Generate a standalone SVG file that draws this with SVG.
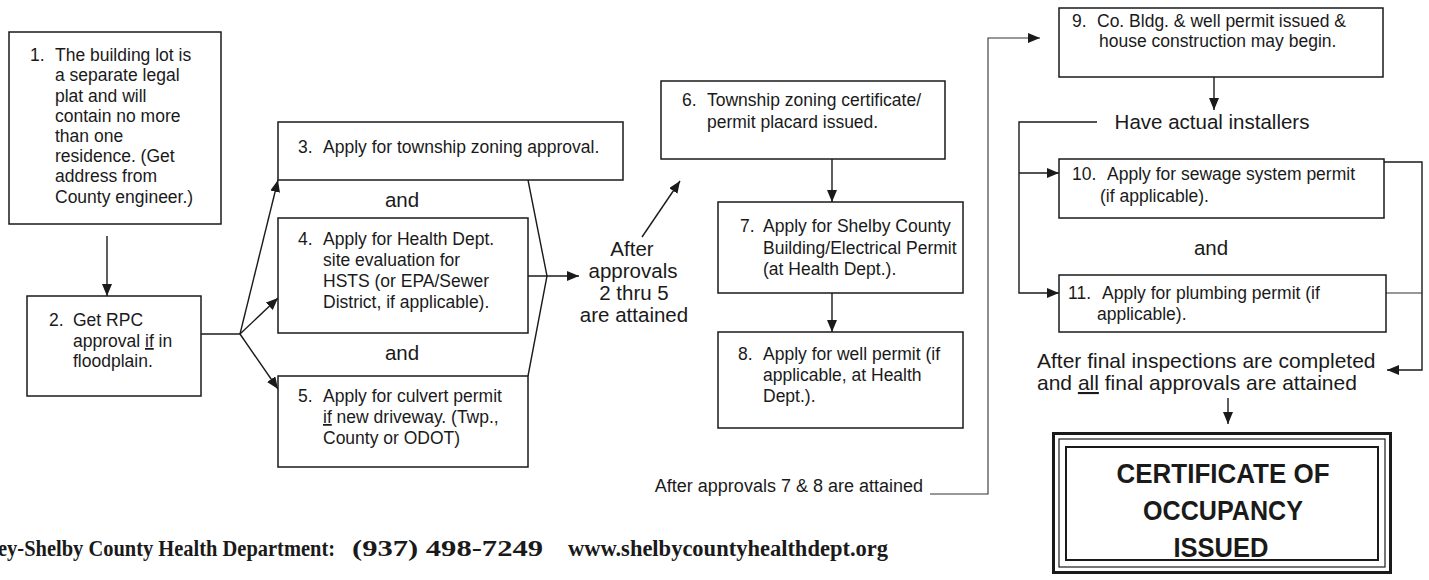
<svg xmlns="http://www.w3.org/2000/svg" width="1429" height="580" viewBox="0 0 1429 580">
<defs>
<style>
.box{fill:#fff;stroke:#1a1a1a;stroke-width:1.5}
.t{font-family:"Liberation Sans",Arial,sans-serif;font-size:17.5px;fill:#1a1a1a}
.l{font-family:"Liberation Sans",Arial,sans-serif;font-size:20.5px;fill:#1a1a1a}
.c{stroke:#1a1a1a;stroke-width:1.4;fill:none}
.cl{stroke:#333;stroke-width:1.1;fill:none}
.ft{font-family:"Liberation Serif","Times New Roman",serif;font-weight:bold;font-size:23px;fill:#1a1a1a}
.cert{font-family:"Liberation Sans",Arial,sans-serif;font-weight:bold;font-size:27px;fill:#1a1a1a;text-anchor:middle}
</style>
<marker id="ah" markerUnits="userSpaceOnUse" markerWidth="13" markerHeight="11" refX="12" refY="5" orient="auto">
<path d="M0,0 L12,5 L0,10 Z" fill="#1a1a1a"/>
</marker>
</defs>
<rect width="1429" height="580" fill="#fff"/>

<g id="connectors">
<line class="c" x1="107" y1="236" x2="107" y2="296" marker-end="url(#ah)"/>
<polyline class="c" points="201,334 240,334"/>
<line class="c" x1="240" y1="334" x2="278" y2="180" marker-end="url(#ah)"/>
<line class="c" x1="240" y1="334" x2="278" y2="298" marker-end="url(#ah)"/>
<line class="c" x1="240" y1="334" x2="278" y2="389" marker-end="url(#ah)"/>
<polyline class="c" points="528,180 547,276 528,376"/>
<line class="c" x1="528" y1="276" x2="579" y2="276" marker-end="url(#ah)"/>
<line class="c" x1="642" y1="237" x2="680" y2="181" marker-end="url(#ah)"/>
<line class="c" x1="832" y1="159" x2="832" y2="202" marker-end="url(#ah)"/>
<line class="c" x1="832" y1="293" x2="832" y2="332" marker-end="url(#ah)"/>
<polyline class="cl" points="930,494 988,494 988,38 1040,38" marker-end="url(#ah)"/>
<line class="c" x1="1214" y1="77" x2="1214" y2="110" marker-end="url(#ah)"/>
<polyline class="c" points="1097,122 1019,122 1019,293 1059,293" marker-end="url(#ah)"/>
<line class="c" x1="1019" y1="173" x2="1059" y2="173" marker-end="url(#ah)"/>
<polyline class="c" points="1384,162 1422,162 1422,370 1387,370" marker-end="url(#ah)"/>
<line class="cl" x1="1386" y1="293" x2="1422" y2="293"/>
<line class="c" x1="1228" y1="398" x2="1228" y2="424" marker-end="url(#ah)"/>
</g>

<g id="n1">
<rect class="box" x="9" y="32" width="212" height="192"/>
<text class="t" x="30" y="61">1.</text>
<text class="t" x="55" y="61">The building lot is</text>
<text class="t" x="55" y="81">a separate legal</text>
<text class="t" x="55" y="102">plat and will</text>
<text class="t" x="55" y="122">contain no more</text>
<text class="t" x="55" y="142">than one</text>
<text class="t" x="55" y="162">residence.  (Get</text>
<text class="t" x="55" y="182">address from</text>
<text class="t" x="55" y="203">County engineer.)</text>
</g>

<g id="n2">
<rect class="box" x="27" y="296" width="174" height="100"/>
<text class="t" x="49" y="326">2.</text>
<text class="t" x="73" y="326">Get RPC</text>
<text class="t" x="73" y="347">approval <tspan text-decoration="underline">if</tspan> in</text>
<text class="t" x="73" y="367">floodplain.</text>
</g>

<g id="n3">
<rect class="box" x="278" y="122" width="345" height="58"/>
<text class="t" x="298" y="153">3.</text>
<text class="t" x="323" y="153">Apply for township zoning approval.</text>
</g>

<g id="and1"><text class="l" x="402" y="207" text-anchor="middle">and</text></g>

<g id="n4">
<rect class="box" x="278" y="218" width="250" height="115"/>
<text class="t" x="298" y="245">4.</text>
<text class="t" x="323" y="245">Apply for Health Dept.</text>
<text class="t" x="323" y="266">site evaluation for</text>
<text class="t" x="323" y="287">HSTS (or EPA/Sewer</text>
<text class="t" x="323" y="308">District, if applicable).</text>
</g>

<g id="and2"><text class="l" x="402" y="360" text-anchor="middle">and</text></g>

<g id="n5">
<rect class="box" x="278" y="376" width="250" height="91"/>
<text class="t" x="298" y="402">5.</text>
<text class="t" x="323" y="402">Apply for culvert permit</text>
<text class="t" x="323" y="423"><tspan text-decoration="underline">if</tspan> new driveway.  (Twp.,</text>
<text class="t" x="323" y="444">County or ODOT)</text>
</g>

<g id="after1">
<text class="l" x="632" y="256" text-anchor="middle">After</text>
<text class="l" x="633" y="278" text-anchor="middle">approvals</text>
<text class="l" x="634" y="300" text-anchor="middle">2 thru 5</text>
<text class="l" x="634" y="322" text-anchor="middle">are attained</text>
</g>

<g id="n6">
<rect class="box" x="661" y="81" width="284" height="78"/>
<text class="t" x="682" y="106">6.</text>
<text class="t" x="707" y="106">Township zoning certificate/</text>
<text class="t" x="707" y="128">permit placard issued.</text>
</g>

<g id="n7">
<rect class="box" x="718" y="202" width="245" height="91"/>
<text class="t" x="740" y="232">7.</text>
<text class="t" x="763" y="232">Apply for Shelby County</text>
<text class="t" x="763" y="254">Building/Electrical Permit</text>
<text class="t" x="763" y="275">(at Health Dept.).</text>
</g>

<g id="n8">
<rect class="box" x="718" y="332" width="245" height="96"/>
<text class="t" x="738" y="360">8.</text>
<text class="t" x="763" y="360">Apply for well permit (if</text>
<text class="t" x="763" y="381">applicable, at Health</text>
<text class="t" x="763" y="402">Dept.).</text>
</g>

<g id="after2"><text class="t" x="923" y="492" text-anchor="end" style="font-size:18px">After approvals 7 &amp; 8 are attained</text></g>

<g id="n9">
<rect class="box" x="1059" y="8" width="324" height="69"/>
<text class="t" x="1072" y="27">9.</text>
<text class="t" x="1097" y="27">Co. Bldg. &amp; well permit issued &amp;</text>
<text class="t" x="1099" y="47">house construction may begin.</text>
</g>

<g id="installers"><text class="l" x="1212" y="129" text-anchor="middle">Have actual installers</text></g>

<g id="n10">
<rect class="box" x="1059" y="159" width="325" height="59"/>
<text class="t" x="1072" y="180">10.</text>
<text class="t" x="1107" y="180">Apply for sewage system permit</text>
<text class="t" x="1100" y="202">(if applicable).</text>
</g>

<g id="and3"><text class="l" x="1211" y="255" text-anchor="middle">and</text></g>

<g id="n11">
<rect class="box" x="1059" y="275" width="327" height="57"/>
<text class="t" x="1068" y="299">11.</text>
<text class="t" x="1102" y="299">Apply for plumbing permit (if</text>
<text class="t" x="1097" y="320">applicable).</text>
</g>

<g id="final">
<text class="l" x="1037" y="368" style="font-size:21px">After final inspections are completed</text>
<text class="l" x="1037" y="390" style="font-size:21px">and <tspan text-decoration="underline">all</tspan> final approvals are attained</text>
</g>

<g id="cert">
<rect x="1053.5" y="433.5" width="337" height="139" fill="#fff" stroke="#1a1a1a" stroke-width="3"/>
<rect x="1059" y="439" width="326" height="128" fill="none" stroke="#1a1a1a" stroke-width="1.2"/>
<rect x="1066" y="447" width="312" height="113" fill="none" stroke="#1a1a1a" stroke-width="2"/>
<text class="cert" x="1223" y="483" textLength="213" lengthAdjust="spacingAndGlyphs">CERTIFICATE OF</text>
<text class="cert" x="1223" y="520" textLength="160" lengthAdjust="spacingAndGlyphs">OCCUPANCY</text>
<text class="cert" x="1221" y="557" textLength="95" lengthAdjust="spacingAndGlyphs">ISSUED</text>
</g>

<g id="footer">
<text class="ft" transform="translate(-2,556) scale(0.89,1)" x="0" y="0">ey-Shelby County Health Department:</text>
<text class="ft" x="352" y="556" textLength="191" lengthAdjust="spacingAndGlyphs">(937) 498-7249</text>
<text class="ft" x="568" y="556" textLength="320" lengthAdjust="spacingAndGlyphs">www.shelbycountyhealthdept.org</text>
</g>
</svg>
